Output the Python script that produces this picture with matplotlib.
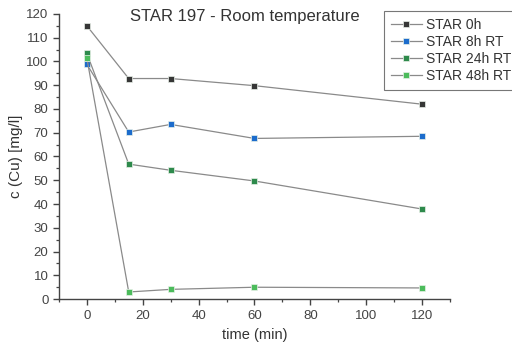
import numpy as np
import matplotlib.pyplot as plt
from matplotlib.ticker import MultipleLocator

plt.rcParams['font.family'] = ['Liberation Sans', 'DejaVu Sans']

# sampling times (min)
time_min = [0, 15, 30, 60, 120]

# copper concentration c(Cu) in mg/l for each storage condition
star_0h = [115.0, 92.8, 92.8, 89.8, 82.0]
star_8h = [98.8, 70.3, 73.5, 67.6, 68.5]
star_24h = [103.4, 56.8, 54.2, 49.7, 37.9]
star_48h = [101.5, 3.0, 4.1, 5.0, 4.7]

series_labels = ["STAR 0h", "STAR 8h RT", "STAR 24h RT", "STAR 48h RT"]
series_colors = ["#363636", "#1c6ccc", "#2e8a4c", "#4cbc5c"]

fig = plt.figure(figsize=(5.12, 3.47), dpi=100)
ax = fig.add_axes([0.115, 0.138, 0.764, 0.822])

for vals, lab, col in zip([star_0h, star_8h, star_24h, star_48h], series_labels, series_colors):
  ax.plot(time_min, vals, color="#8a8a8a", lw=0.9, marker="s", ms=4.8,
          mfc=col, mec="#e8f0e8", mew=0.5, label=lab)

ax.set_xlim(-10, 130)
ax.set_ylim(0, 120)
ax.xaxis.set_major_locator(MultipleLocator(20))
ax.xaxis.set_minor_locator(MultipleLocator(10))
ax.yaxis.set_major_locator(MultipleLocator(10))
ax.yaxis.set_minor_locator(MultipleLocator(5))

for s in ["top", "right"]:
  ax.spines[s].set_visible(False)
for s in ["left", "bottom"]:
  ax.spines[s].set_color("#444444")
  ax.spines[s].set_linewidth(1.0)

ax.tick_params(which="major", length=4, width=1.0, color="#444444", labelsize=9.5, labelcolor="#444444")
ax.tick_params(which="minor", length=2.5, width=0.9, color="#444444")

ax.set_xlabel("time (min)", fontsize=10.5, color="#333333", labelpad=5)
ax.set_ylabel("c (Cu) [mg/l]", fontsize=11, color="#333333", labelpad=2)
ax.text(0.475, 0.99, "STAR 197 - Room temperature", transform=ax.transAxes,
        ha="center", va="center", fontsize=12, color="#333333")

leg = fig.legend(loc="upper left", bbox_to_anchor=(384 / 512, 1 - 11 / 347),
                 fontsize=10, frameon=True, fancybox=False, borderpad=0.5,
                 labelspacing=0.22, handlelength=2.2, handletextpad=0.35,
                 borderaxespad=0, markerscale=0.85)
leg.get_frame().set_edgecolor("#555555")
leg.get_frame().set_linewidth(0.8)
for t in leg.get_texts():
  t.set_color("#333333")

fig.savefig("out.png", dpi=100)
